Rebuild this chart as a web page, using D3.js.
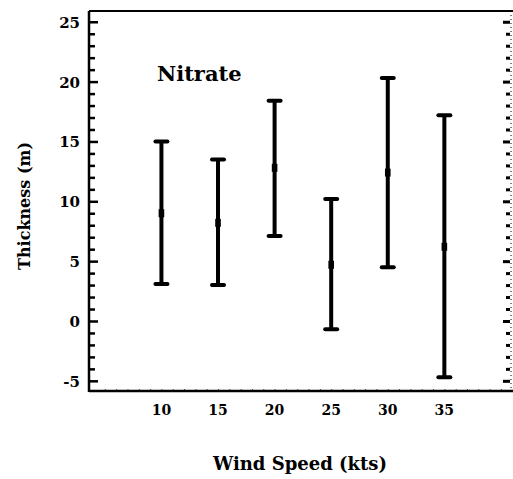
<!DOCTYPE html>
<html><head><meta charset="utf-8">
<script src="https://cdn.jsdelivr.net/npm/d3@7"></script>
<style>body{margin:0;background:#fff}svg{display:block}</style>
</head><body>
<svg id="c" width="513" height="479"></svg>
<script>
const windSpeeds = [10, 15, 20, 25, 30, 35];
const upper = [15.0, 13.5, 18.4, 10.2, 20.3, 17.2];
const mean = [9.0, 8.2, 12.8, 4.7, 12.4, 6.2];
const lower = [3.1, 3.0, 7.1, -0.7, 4.5, -4.7];
const yTicks = [-5, 0, 5, 10, 15, 20, 25];
const xTicks = [10, 15, 20, 25, 30, 35];

const FONT = "'DejaVu Serif', serif";
const svg = d3.select("#c");
const L = 89, R = 510, T = 11, B = 391;
const x = d3.scaleLinear().domain([3.6, 40.8]).range([L, R]);
const y = d3.scaleLinear().domain([-5.85, 25.9]).range([B, T]);
const minor = d3.range(-5, 26, 1).filter(v => v % 5 !== 0);

function txt(sel) { return sel.attr("font-family", FONT).attr("font-weight", "bold").attr("fill", "#000"); }

const gl = svg.append("g").attr("transform", `translate(${L},0)`);
gl.call(d3.axisRight(y).tickValues(yTicks).tickSize(9).tickFormat(""));
gl.append("g").call(d3.axisRight(y).tickValues(minor).tickSize(6).tickFormat(""));
gl.selectAll("path.domain").remove();
gl.selectAll("line").attr("stroke", "#000").attr("stroke-width", 2.5);
gl.append("line").attr("x1", 0).attr("x2", 0).attr("y1", T).attr("y2", B + 1).attr("stroke", "#000").attr("stroke-width", 2.5);
gl.selectAll("text.yl").data(yTicks).enter().append("text").attr("class", "yl")
  .attr("x", -9).attr("y", d => y(d) + 6).attr("text-anchor", "end").attr("font-size", 15).text(d => d).call(txt);

const gr = svg.append("g").attr("transform", `translate(${R},0)`);
gr.call(d3.axisLeft(y).tickValues(yTicks).tickSize(7).tickFormat(""));
gr.append("g").call(d3.axisLeft(y).tickValues(minor).tickSize(4).tickFormat(""));
gr.selectAll("path.domain").remove();
gr.selectAll("line").attr("stroke", "#000").attr("stroke-width", 3);
gr.append("line").attr("x1", 1).attr("x2", 1).attr("y1", T).attr("y2", B)
  .attr("stroke", "#000").attr("stroke-width", 1).attr("stroke-dasharray", "1,3");

svg.append("line").attr("x1", L).attr("x2", 513).attr("y1", T).attr("y2", T).attr("stroke", "#000").attr("stroke-width", 2);

const gb = svg.append("g").attr("transform", `translate(0,${B})`);
gb.call(d3.axisTop(x).tickValues(d3.range(5, 41, 1)).tickSize(2).tickFormat(""));
gb.selectAll("path.domain").remove();
gb.selectAll("line").attr("stroke", "#555").attr("stroke-width", 1);
gb.append("line").attr("x1", L).attr("x2", 513).attr("y1", 0).attr("y2", 0).attr("stroke", "#000").attr("stroke-width", 2.5);
gb.selectAll("text.xl").data(xTicks).enter().append("text").attr("class", "xl")
  .attr("x", d => x(d)).attr("y", 24).attr("text-anchor", "middle").attr("font-size", 14).text(d => d).call(txt);

const g = svg.append("g");
windSpeeds.forEach((w, i) => {
  const cx = x(w);
  g.append("line").attr("x1", cx).attr("x2", cx).attr("y1", y(upper[i])).attr("y2", y(lower[i]))
    .attr("stroke", "#000").attr("stroke-width", 4);
  [upper[i], lower[i]].forEach(v => {
    g.append("line").attr("x1", cx - 6).attr("x2", cx + 6).attr("y1", y(v)).attr("y2", y(v))
      .attr("stroke", "#000").attr("stroke-width", 4).attr("stroke-linecap", "round");
  });
  g.append("rect").attr("x", cx - 2.8).attr("y", y(mean[i]) - 4).attr("width", 5.6).attr("height", 8).attr("fill", "#000");
});

svg.append("text").attr("x", 157).attr("y", 81).attr("font-size", 21).text("Nitrate").call(txt);
svg.append("text").attr("x", 300).attr("y", 470).attr("text-anchor", "middle").attr("font-size", 18).text("Wind Speed (kts)").call(txt);
svg.append("text").attr("transform", "translate(30,206) rotate(-90)").attr("text-anchor", "middle").attr("font-size", 16).text("Thickness (m)").call(txt);
</script>
</body></html>
